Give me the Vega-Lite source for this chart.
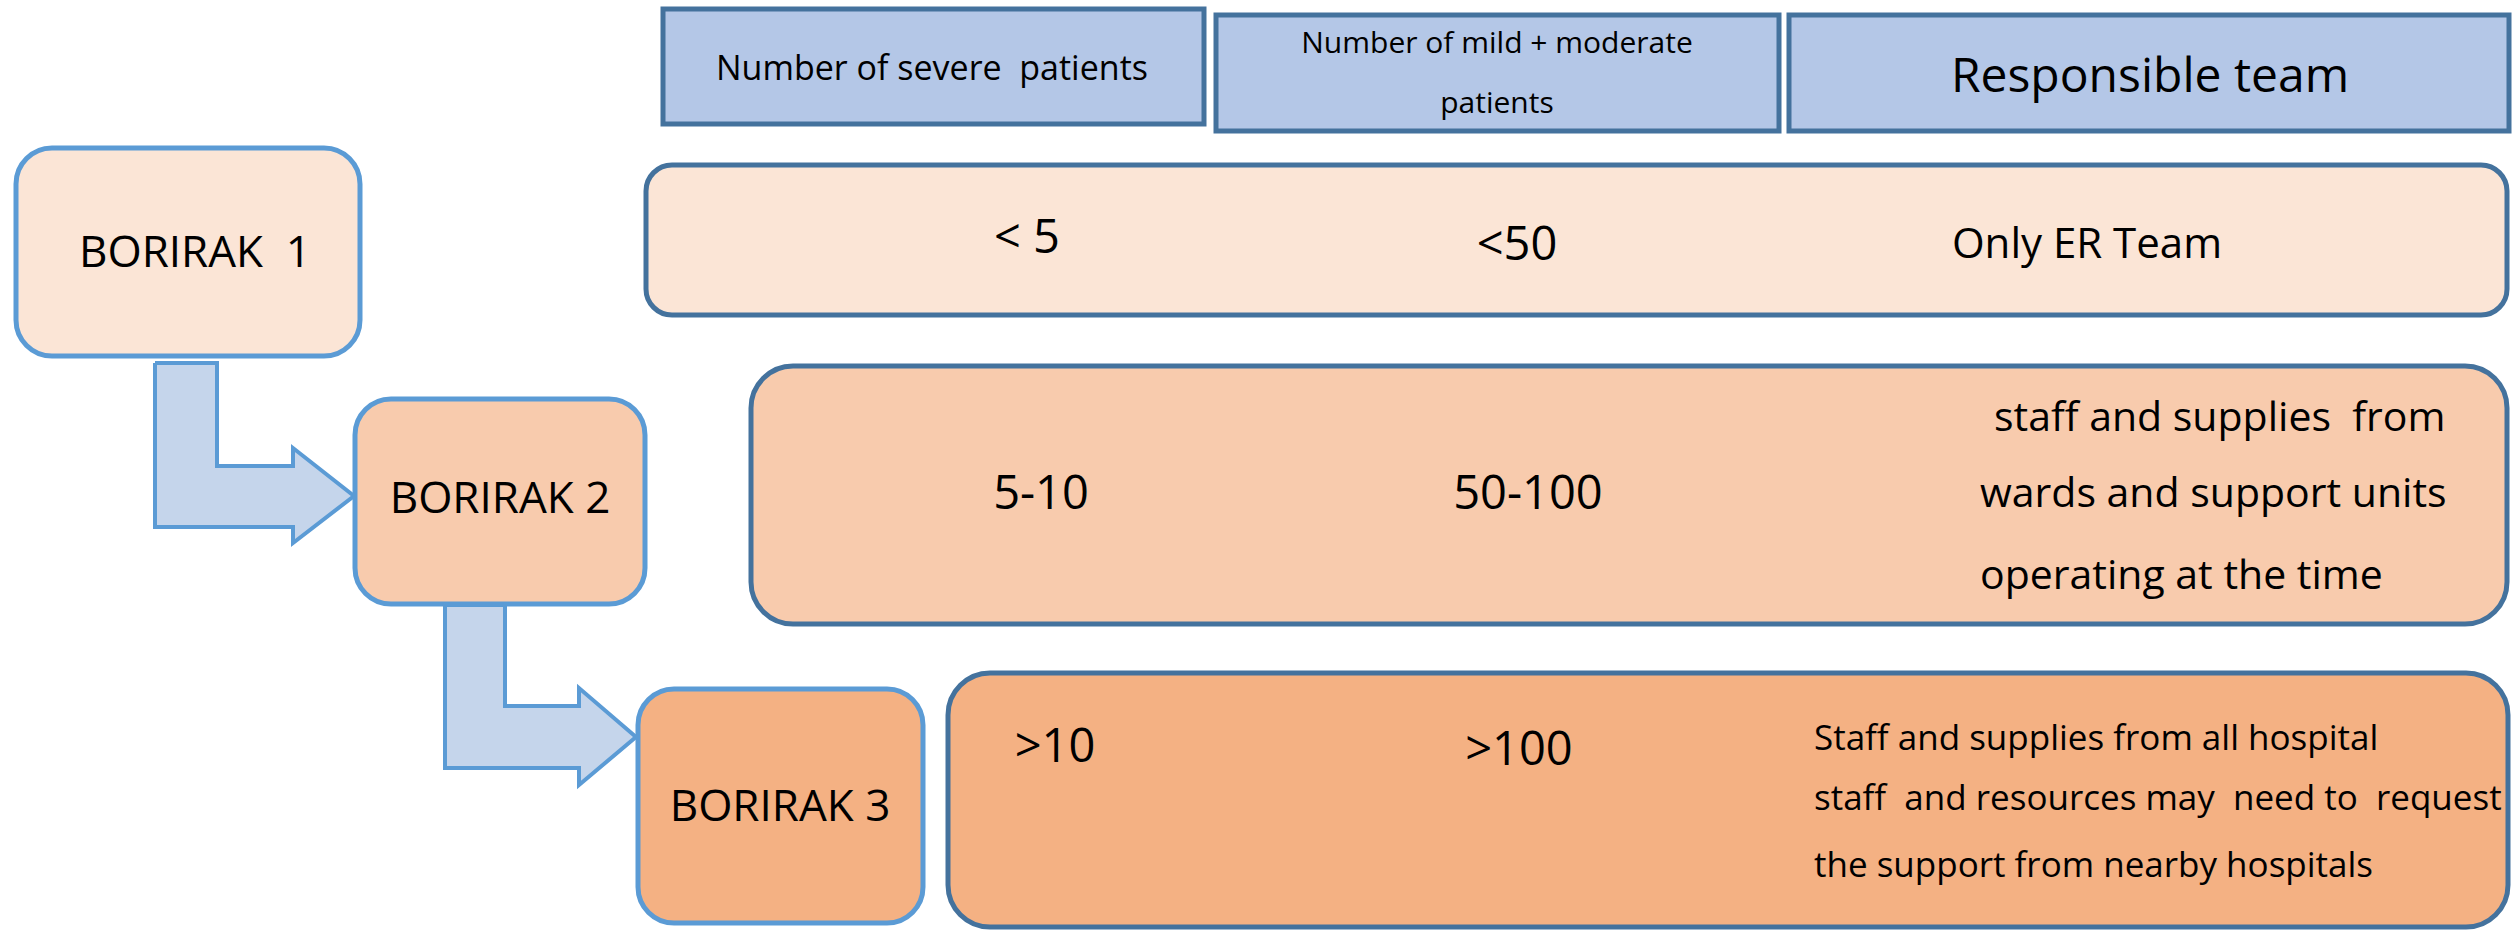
{
  "$schema": "https://vega.github.io/schema/vega-lite/v6.json",
  "width": 2513,
  "height": 930,
  "padding": 0,
  "autosize": {"type": "fit", "contains": "padding"},
  "background": "white",
  "config": {"view": {"stroke": null}, "text": {"font": "Open Sans", "color": "black"}},
  "datasets": {
    "shapes": [
      {"id": "h1", "kind": "header", "level": "h", "x0": 663, "x1": 1204, "y0": 9, "y1": 124},
      {"id": "h2", "kind": "header", "level": "h", "x0": 1216, "x1": 1779, "y0": 15, "y1": 131},
      {"id": "h3", "kind": "header", "level": "h", "x0": 1789, "x1": 2509, "y0": 15, "y1": 131},
      {"id": "r1", "kind": "row", "level": "1", "x0": 646, "x1": 2507, "y0": 165, "y1": 315},
      {"id": "r2", "kind": "row", "level": "2", "x0": 751, "x1": 2507, "y0": 366, "y1": 624},
      {"id": "r3", "kind": "row", "level": "3", "x0": 948, "x1": 2508, "y0": 673, "y1": 927},
      {"id": "b1", "kind": "box", "level": "1", "x0": 16, "x1": 360, "y0": 148, "y1": 356},
      {"id": "b2", "kind": "box", "level": "2", "x0": 355, "x1": 645, "y0": 399, "y1": 604},
      {"id": "b3", "kind": "box", "level": "3", "x0": 638, "x1": 923, "y0": 689, "y1": 923}
    ],
    "arrows": [
      {"arrow": "a1", "i": 0, "x": 155, "y": 363},
      {"arrow": "a1", "i": 1, "x": 217, "y": 363},
      {"arrow": "a1", "i": 2, "x": 217, "y": 466},
      {"arrow": "a1", "i": 3, "x": 293, "y": 466},
      {"arrow": "a1", "i": 4, "x": 293, "y": 448},
      {"arrow": "a1", "i": 5, "x": 354, "y": 496},
      {"arrow": "a1", "i": 6, "x": 293, "y": 543},
      {"arrow": "a1", "i": 7, "x": 293, "y": 527},
      {"arrow": "a1", "i": 8, "x": 155, "y": 527},
      {"arrow": "a1", "i": 9, "x": 155, "y": 363},
      {"arrow": "a2", "i": 0, "x": 445, "y": 605},
      {"arrow": "a2", "i": 1, "x": 505, "y": 605},
      {"arrow": "a2", "i": 2, "x": 505, "y": 706},
      {"arrow": "a2", "i": 3, "x": 579, "y": 706},
      {"arrow": "a2", "i": 4, "x": 579, "y": 688},
      {"arrow": "a2", "i": 5, "x": 636, "y": 737},
      {"arrow": "a2", "i": 6, "x": 579, "y": 785},
      {"arrow": "a2", "i": 7, "x": 579, "y": 768},
      {"arrow": "a2", "i": 8, "x": 445, "y": 768},
      {"arrow": "a2", "i": 9, "x": 445, "y": 605}
    ],
    "labels": [
      {"role": "headA", "text": "Number of severe \u00a0patients", "x": 932, "y": 80},
      {"role": "headB", "text": "Number of mild + moderate", "x": 1497, "y": 53},
      {"role": "headB", "text": "patients", "x": 1497, "y": 113},
      {"role": "headC", "text": "Responsible team", "x": 2150, "y": 92},
      {"role": "num", "text": "< 5", "x": 1027, "y": 253},
      {"role": "num", "text": "<50", "x": 1517, "y": 260},
      {"role": "team1", "text": "Only ER Team", "x": 2087, "y": 258},
      {"role": "num", "text": "5-10", "x": 1041, "y": 509},
      {"role": "num", "text": "50-100", "x": 1528, "y": 509},
      {"role": "team2", "text": "staff and supplies \u00a0from", "x": 1994, "y": 431},
      {"role": "team2", "text": "wards and support units", "x": 1980, "y": 507},
      {"role": "team2", "text": "operating at the time", "x": 1980, "y": 589},
      {"role": "num", "text": ">10", "x": 1055, "y": 762},
      {"role": "num", "text": ">100", "x": 1519, "y": 765},
      {"role": "team3", "text": "Staff and supplies from all hospital", "x": 1814, "y": 750},
      {"role": "team3", "text": "staff \u00a0and resources may \u00a0need to \u00a0request", "x": 1814, "y": 810},
      {"role": "team3", "text": "the support from nearby hospitals", "x": 1814, "y": 877},
      {"role": "bor", "text": "BORIRAK \u00a01", "x": 195, "y": 267},
      {"role": "bor", "text": "BORIRAK 2", "x": 500, "y": 513},
      {"role": "bor", "text": "BORIRAK 3", "x": 780, "y": 821}
    ]
  },
  "layer": [
    {
      "data": {"name": "arrows"},
      "mark": {"type": "line", "fill": "#c5d5eb", "stroke": "#5b9bd5", "strokeWidth": 4, "strokeJoin": "miter"},
      "encoding": {
        "x": {"field": "x", "type": "quantitative", "scale": {"domain": [0, 2513], "nice": false, "zero": false}, "axis": null},
        "y": {"field": "y", "type": "quantitative", "scale": {"domain": [0, 930], "nice": false, "zero": false, "reverse": true}, "axis": null},
        "detail": {"field": "arrow"},
        "order": {"field": "i", "type": "quantitative"}
      }
    },
    {
      "data": {"name": "shapes"},
      "transform": [{"filter": "datum.kind === 'header'"}],
      "mark": {"type": "rect", "fill": "#b4c7e7", "stroke": "#44729d", "strokeWidth": 5},
      "encoding": {
        "x": {"field": "x0", "type": "quantitative", "scale": {"domain": [0, 2513], "nice": false, "zero": false}, "axis": null},
        "x2": {"field": "x1"},
        "y": {"field": "y0", "type": "quantitative", "scale": {"domain": [0, 930], "nice": false, "zero": false, "reverse": true}, "axis": null},
        "y2": {"field": "y1"}
      }
    },
    {
      "data": {"name": "shapes"},
      "transform": [{"filter": "datum.kind === 'row' && datum.level === '1'"}],
      "mark": {"type": "rect", "stroke": "#44729d", "strokeWidth": 5, "cornerRadius": 26, "opacity": 1},
      "encoding": {
        "x": {"field": "x0", "type": "quantitative", "scale": {"domain": [0, 2513], "nice": false, "zero": false}, "axis": null},
        "x2": {"field": "x1"},
        "y": {"field": "y0", "type": "quantitative", "scale": {"domain": [0, 930], "nice": false, "zero": false, "reverse": true}, "axis": null},
        "y2": {"field": "y1"},
        "color": {"field": "level", "type": "nominal", "scale": {"domain": ["1", "2", "3"], "range": ["#fbe5d6", "#f8cbad", "#f4b183"]}, "legend": null}
      }
    },
    {
      "data": {"name": "shapes"},
      "transform": [{"filter": "datum.kind === 'row' && datum.level !== '1'"}],
      "mark": {"type": "rect", "stroke": "#44729d", "strokeWidth": 5, "cornerRadius": 42, "opacity": 1},
      "encoding": {
        "x": {"field": "x0", "type": "quantitative", "scale": {"domain": [0, 2513], "nice": false, "zero": false}, "axis": null},
        "x2": {"field": "x1"},
        "y": {"field": "y0", "type": "quantitative", "scale": {"domain": [0, 930], "nice": false, "zero": false, "reverse": true}, "axis": null},
        "y2": {"field": "y1"},
        "color": {"field": "level", "type": "nominal", "scale": {"domain": ["1", "2", "3"], "range": ["#fbe5d6", "#f8cbad", "#f4b183"]}, "legend": null}
      }
    },
    {
      "data": {"name": "shapes"},
      "transform": [{"filter": "datum.kind === 'box'"}],
      "mark": {"type": "rect", "stroke": "#5b9bd5", "strokeWidth": 5, "cornerRadius": 36, "opacity": 1},
      "encoding": {
        "x": {"field": "x0", "type": "quantitative", "scale": {"domain": [0, 2513], "nice": false, "zero": false}, "axis": null},
        "x2": {"field": "x1"},
        "y": {"field": "y0", "type": "quantitative", "scale": {"domain": [0, 930], "nice": false, "zero": false, "reverse": true}, "axis": null},
        "y2": {"field": "y1"},
        "color": {"field": "level", "type": "nominal", "scale": {"domain": ["1", "2", "3"], "range": ["#fbe5d6", "#f8cbad", "#f4b183"]}, "legend": null}
      }
    },
    {
      "data": {"name": "labels"},
      "transform": [{"filter": "datum.role === 'headA'"}],
      "mark": {"type": "text", "fontSize": 34, "align": "center", "baseline": "alphabetic"},
      "encoding": {
        "x": {"field": "x", "type": "quantitative", "scale": {"domain": [0, 2513], "nice": false, "zero": false}, "axis": null},
        "y": {"field": "y", "type": "quantitative", "scale": {"domain": [0, 930], "nice": false, "zero": false, "reverse": true}, "axis": null},
        "text": {"field": "text"}
      }
    },
    {
      "data": {"name": "labels"},
      "transform": [{"filter": "datum.role === 'headB'"}],
      "mark": {"type": "text", "fontSize": 30, "align": "center", "baseline": "alphabetic"},
      "encoding": {
        "x": {"field": "x", "type": "quantitative", "scale": {"domain": [0, 2513], "nice": false, "zero": false}, "axis": null},
        "y": {"field": "y", "type": "quantitative", "scale": {"domain": [0, 930], "nice": false, "zero": false, "reverse": true}, "axis": null},
        "text": {"field": "text"}
      }
    },
    {
      "data": {"name": "labels"},
      "transform": [{"filter": "datum.role === 'headC'"}],
      "mark": {"type": "text", "fontSize": 48, "align": "center", "baseline": "alphabetic"},
      "encoding": {
        "x": {"field": "x", "type": "quantitative", "scale": {"domain": [0, 2513], "nice": false, "zero": false}, "axis": null},
        "y": {"field": "y", "type": "quantitative", "scale": {"domain": [0, 930], "nice": false, "zero": false, "reverse": true}, "axis": null},
        "text": {"field": "text"}
      }
    },
    {
      "data": {"name": "labels"},
      "transform": [{"filter": "datum.role === 'num'"}],
      "mark": {"type": "text", "fontSize": 47, "align": "center", "baseline": "alphabetic"},
      "encoding": {
        "x": {"field": "x", "type": "quantitative", "scale": {"domain": [0, 2513], "nice": false, "zero": false}, "axis": null},
        "y": {"field": "y", "type": "quantitative", "scale": {"domain": [0, 930], "nice": false, "zero": false, "reverse": true}, "axis": null},
        "text": {"field": "text"}
      }
    },
    {
      "data": {"name": "labels"},
      "transform": [{"filter": "datum.role === 'team1'"}],
      "mark": {"type": "text", "fontSize": 42, "align": "center", "baseline": "alphabetic"},
      "encoding": {
        "x": {"field": "x", "type": "quantitative", "scale": {"domain": [0, 2513], "nice": false, "zero": false}, "axis": null},
        "y": {"field": "y", "type": "quantitative", "scale": {"domain": [0, 930], "nice": false, "zero": false, "reverse": true}, "axis": null},
        "text": {"field": "text"}
      }
    },
    {
      "data": {"name": "labels"},
      "transform": [{"filter": "datum.role === 'team2'"}],
      "mark": {"type": "text", "fontSize": 41, "align": "left", "baseline": "alphabetic"},
      "encoding": {
        "x": {"field": "x", "type": "quantitative", "scale": {"domain": [0, 2513], "nice": false, "zero": false}, "axis": null},
        "y": {"field": "y", "type": "quantitative", "scale": {"domain": [0, 930], "nice": false, "zero": false, "reverse": true}, "axis": null},
        "text": {"field": "text"}
      }
    },
    {
      "data": {"name": "labels"},
      "transform": [{"filter": "datum.role === 'team3'"}],
      "mark": {"type": "text", "fontSize": 35, "align": "left", "baseline": "alphabetic"},
      "encoding": {
        "x": {"field": "x", "type": "quantitative", "scale": {"domain": [0, 2513], "nice": false, "zero": false}, "axis": null},
        "y": {"field": "y", "type": "quantitative", "scale": {"domain": [0, 930], "nice": false, "zero": false, "reverse": true}, "axis": null},
        "text": {"field": "text"}
      }
    },
    {
      "data": {"name": "labels"},
      "transform": [{"filter": "datum.role === 'bor'"}],
      "mark": {"type": "text", "fontSize": 44, "align": "center", "baseline": "alphabetic"},
      "encoding": {
        "x": {"field": "x", "type": "quantitative", "scale": {"domain": [0, 2513], "nice": false, "zero": false}, "axis": null},
        "y": {"field": "y", "type": "quantitative", "scale": {"domain": [0, 930], "nice": false, "zero": false, "reverse": true}, "axis": null},
        "text": {"field": "text"}
      }
    }
  ]
}
